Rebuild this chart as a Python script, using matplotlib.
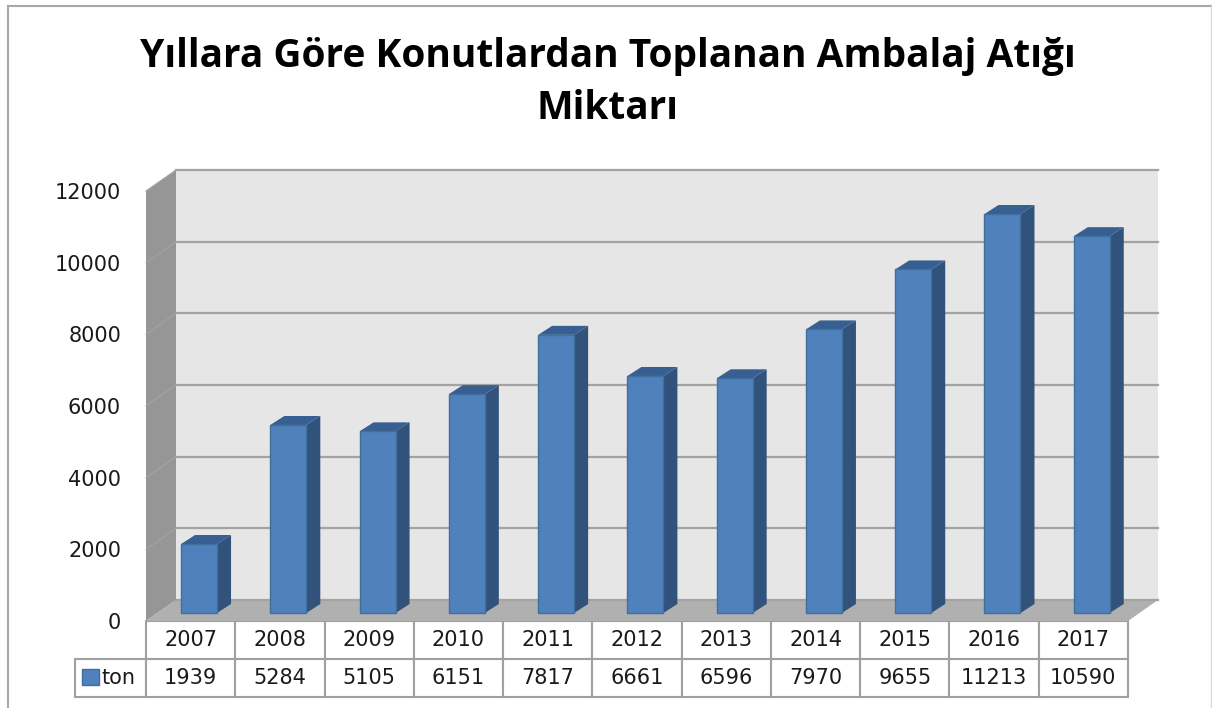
import matplotlib
matplotlib.use('Agg')
import matplotlib.pyplot as plt
from matplotlib.patches import Rectangle
from matplotlib.lines import Line2D

years = ['2007', '2008', '2009', '2010', '2011', '2012', '2013', '2014', '2015', '2016', '2017']
ton = [1939, 5284, 5105, 6151, 7817, 6661, 6596, 7970, 9655, 11213, 10590]
yticks = [0, 2000, 4000, 6000, 8000, 10000, 12000]
title = 'Yıllara Göre Konutlardan Toplanan Ambalaj Atığı\nMiktarı'
series_name = 'ton'

W, H = 1212, 708
# front plane of the fake 3d box, in pixels
left, right, top, bottom = 146, 1128, 191, 621
px_x = 11 / (right - left)          # category units per pixel
px_y = 12000 / (bottom - top)       # value units per pixel

# depth offsets (pixels converted to data units)
wall_dx, wall_dy = 30 * px_x, 21 * px_y
base_dx, base_dy = 8.4 * px_x, 8 * px_y
bar_dx, bar_dy = 14 * px_x, 9 * px_y
bar_w = 36 * px_x
bar_scale = 0.993   # bars sit further back than the front plane

plt.rcParams['font.family'] = ['DejaVu Sans']
fig = plt.figure(figsize=(W / 100, H / 100), dpi=100)
ax = fig.add_axes([left / W, 1 - bottom / H, (right - left) / W, (bottom - top) / H])
ax.set_xlim(0, 11)
ax.set_ylim(0, 12000)
ax.patch.set_visible(False)
for s in ax.spines.values():
    s.set_visible(False)

# walls and floor
ax.fill([wall_dx, 11 + wall_dx, 11 + wall_dx, wall_dx],
        [wall_dy, wall_dy, 12000 + wall_dy, 12000 + wall_dy], color='#e6e6e6', lw=0, zorder=1, clip_on=False)
ax.fill([0, wall_dx, wall_dx, 0], [0, wall_dy, 12000 + wall_dy, 12000], color='#969696', lw=0, zorder=1, clip_on=False)
ax.fill([0, 11, 11 + wall_dx, wall_dx], [0, 0, wall_dy, wall_dy], color='#b0b0b0', lw=0, zorder=1, clip_on=False)

# gridlines run along the side wall and the back wall
for v in yticks:
    ax.plot([wall_dx, 11 + wall_dx], [v + wall_dy, v + wall_dy], color='#a3a3a3', lw=1.6, zorder=2, clip_on=False)
    if v > 0:
        ax.plot([0, wall_dx], [v, v + wall_dy], color='#a3a3a3', lw=0.8, zorder=2, clip_on=False)

# bars: front, top and side face
for i, v in enumerate(ton):
    x0 = i + 0.5 - bar_w / 2 + base_dx
    x1 = x0 + bar_w
    y0 = base_dy
    y1 = v * bar_scale + base_dy
    ax.fill([x1, x1 + bar_dx, x1 + bar_dx, x1], [y0, y0 + bar_dy, y1 + bar_dy, y1], color='#31527b', lw=0, zorder=3, clip_on=False)
    ax.fill([x0, x1, x1 + bar_dx, x0 + bar_dx], [y1, y1, y1 + bar_dy, y1 + bar_dy], color='#385f91', lw=0, zorder=3, clip_on=False)
    ax.fill([x0, x1, x1, x0], [y0, y0, y1, y1], facecolor='#4f81bd', edgecolor='#41709f', lw=1, zorder=4, clip_on=False)

ax.set_xticks([])
ax.set_yticks(yticks)
ax.tick_params(axis='y', length=0, pad=18, labelsize=15, labelcolor='#1a1a1a')

# data table under the chart, bbox only counts the value cells
label_w = 71 / (right - left)
tab = ax.table(cellText=[years, [str(v) for v in ton]],
               colWidths=[1 / 11] * 11,
               cellLoc='center',
               bbox=[0, -76 / (bottom - top), 1, 76 / (bottom - top)])
name_cell = tab.add_cell(1, -1, label_w, tab[(1, 0)].get_height(), text=series_name, loc='left')
name_cell.PAD = 27 / 71
tab.auto_set_font_size(False)
for cell in tab.get_celld().values():
    cell.set_edgecolor('#a0a0a0')
    cell.set_linewidth(1.5)
    cell.set_text_props(fontsize=15, color='#1a1a1a')

# legend key in the table
ax.add_patch(Rectangle((-64 * px_x, -64 * px_y), 17 * px_x, 16 * px_y, facecolor='#4f81bd',
                       edgecolor='#41709f', lw=1, clip_on=False, zorder=6))

fig.text(608 / W, 1 - 82.5 / H, title, ha='center', va='center', fontsize=28, fontweight='bold',
         family='Open Sans', color='black', linespacing=1.42)

# chart frame
y_top = 1 - 6 / H
fig.add_artist(Line2D([8 / W, 8 / W], [0, y_top], color='#a8a8a8', lw=1.5))
fig.add_artist(Line2D([8 / W, 1], [y_top, y_top], color='#a8a8a8', lw=1.5))
fig.add_artist(Line2D([1211 / W, 1211 / W], [0, y_top], color='#d8d8d8', lw=1))

fig.savefig('out.png', dpi=100)
